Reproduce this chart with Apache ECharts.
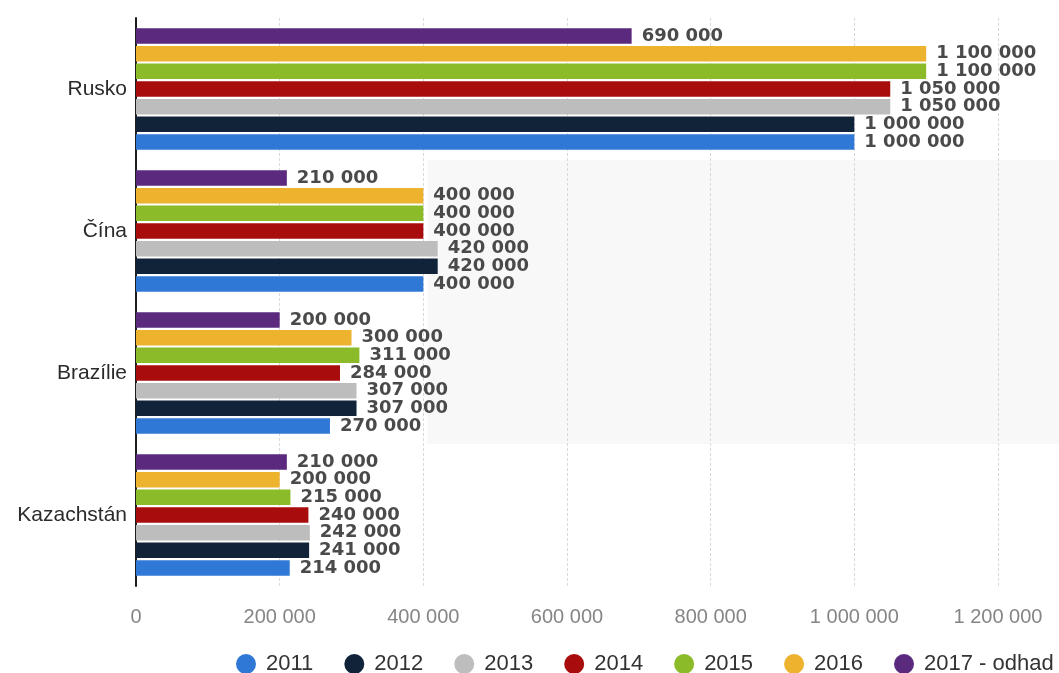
<!DOCTYPE html>
<html>
<head>
<meta charset="utf-8">
<script src="https://cdn.jsdelivr.net/npm/echarts@6/dist/echarts.min.js"></script>
<style>
  html, body { margin: 0; padding: 0; background: #ffffff; }
  #chart { width: 1059px; height: 673px; }
</style>
</head>
<body>
<div id="chart"></div>
<script>
// Countries, top to bottom
const countries = ['Rusko', 'Čína', 'Brazílie', 'Kazachstán'];

// Years shown in the legend
const years = ['2011', '2012', '2013', '2014', '2015', '2016', '2017 - odhad'];

// Values per year, in the order of `countries`
const v2011 = [1000000, 400000, 270000, 214000];
const v2012 = [1000000, 420000, 307000, 241000];
const v2013 = [1050000, 420000, 307000, 242000];
const v2014 = [1050000, 400000, 284000, 240000];
const v2015 = [1100000, 400000, 311000, 215000];
const v2016 = [1100000, 400000, 300000, 200000];
const v2017 = [690000, 210000, 200000, 210000];

// x-axis ticks
const xTicks = [0, 200000, 400000, 600000, 800000, 1000000, 1200000];

const yearValues = [v2011, v2012, v2013, v2014, v2015, v2016, v2017];
const colors = ['#2f78d6', '#112339', '#bdbdbd', '#a80c0c', '#8bbb28', '#edb22e', '#5b2a7e'];

function spaced(n) {
  return String(n).replace(/\B(?=(\d{3})+(?!\d))/g, ' ');
}

// Series listed from newest to oldest so 2011 sits at the bottom of each group
const series = [];
for (let i = years.length - 1; i >= 0; i--) {
  series.push({
    name: years[i],
    type: 'bar',
    data: yearValues[i],
    barWidth: 15.5,
    barGap: '14%',
    itemStyle: { color: colors[i] },
    label: {
      show: true,
      position: 'right',
      distance: 10,
      formatter: p => spaced(p.value),
      fontFamily: 'DejaVu Sans',
      fontWeight: 'bold',
      fontSize: 18,
      color: '#4a4a4a'
    },
    emphasis: { disabled: true },
    animation: false
  });
}

const chart = echarts.init(document.getElementById('chart'), null, { renderer: 'canvas' });

chart.setOption({
  backgroundColor: '#ffffff',
  animation: false,
  color: colors,
  grid: { left: 136, right: 61, top: 18, bottom: 87, containLabel: false },
  legend: {
    data: years,
    left: 231,
    top: 648,
    icon: 'circle',
    itemWidth: 20,
    itemHeight: 20,
    itemGap: 31,
    textStyle: {
      fontFamily: 'Liberation Sans',
      fontSize: 22,
      color: '#333333',
      padding: [0, 0, 0, 5]
    }
  },
  xAxis: {
    type: 'value',
    min: xTicks[0],
    max: xTicks[xTicks.length - 1],
    interval: xTicks[1] - xTicks[0],
    axisLine: { show: false },
    axisTick: { show: false },
    axisLabel: {
      margin: 21,
      fontFamily: 'Liberation Sans',
      fontSize: 20,
      color: '#858585',
      formatter: v => spaced(v)
    },
    splitLine: {
      show: true,
      lineStyle: { color: '#d9d9d9', type: [3, 2], width: 1 }
    }
  },
  yAxis: {
    type: 'category',
    data: countries,
    inverse: true,
    axisLine: { show: true, lineStyle: { color: '#1e1e1e', width: 2 } },
    axisTick: { show: false },
    axisLabel: {
      margin: 9,
      fontFamily: 'Liberation Sans',
      fontSize: 21,
      color: '#2b2b2b'
    },
    splitLine: { show: false }
  },
  series: series
});

// Faint shaded band behind the middle two groups, right of the 400 000 line
const topY = (chart.convertToPixel({ yAxisIndex: 0 }, 'Rusko') + chart.convertToPixel({ yAxisIndex: 0 }, 'Čína')) / 2;
const botY = (chart.convertToPixel({ yAxisIndex: 0 }, 'Brazílie') + chart.convertToPixel({ yAxisIndex: 0 }, 'Kazachstán')) / 2;
const bandX = chart.convertToPixel({ xAxisIndex: 0 }, 400000) + 4;
chart.setOption({
  graphic: [{
    type: 'rect',
    z: -10,
    silent: true,
    shape: { x: bandX, y: topY, width: 1059 - bandX, height: botY - topY },
    style: { fill: '#f8f8f8' }
  }]
});
</script>
</body>
</html>
